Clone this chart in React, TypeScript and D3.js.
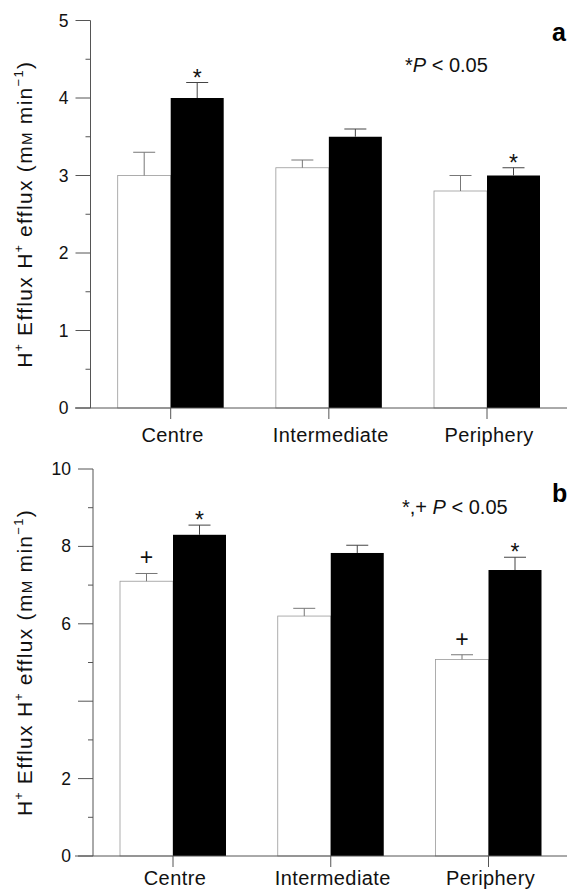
import React, { useEffect, useRef } from 'react';
import * as d3 from 'd3';

// categories and series
const categories = ['Centre', 'Intermediate', 'Periphery'];
const seriesKeys = ['open', 'filled'];

// panel a values (mM min-1)
const aOpen = [3.0, 3.1, 2.8];
const aOpenErr = [0.3, 0.1, 0.2];
const aFilled = [4.0, 3.5, 3.0];
const aFilledErr = [0.2, 0.1, 0.1];
const aMarks = [
  { cat: 'Centre', s: 'filled', sym: '*' },
  { cat: 'Periphery', s: 'filled', sym: '*' },
];
const aMajorTicks = [0, 1, 2, 3, 4, 5];
const aMinorTicks = [0.5, 1.5, 2.5, 3.5, 4.5];
const aTickLabels = ['0', '1', '2', '3', '4', '5'];

// panel b values
const bOpen = [7.1, 6.2, 5.08];
const bOpenErr = [0.2, 0.2, 0.12];
const bFilled = [8.3, 7.83, 7.39];
const bFilledErr = [0.25, 0.2, 0.33];
const bMarks = [
  { cat: 'Centre', s: 'open', sym: '+' },
  { cat: 'Centre', s: 'filled', sym: '*' },
  { cat: 'Periphery', s: 'open', sym: '+' },
  { cat: 'Periphery', s: 'filled', sym: '*' },
];
const bMajorTicks = [0, 2, 4, 6, 8, 10];
const bMinorTicks = [1, 3, 5, 7, 9];
const bTickLabels = ['0', '2', '', '6', '8', '10'];

const FONT = '"Liberation Sans", Arial, Helvetica, sans-serif';

const App = () => {
  const svgRef = useRef<SVGSVGElement>(null);

  useEffect(() => {
    const svg = d3.select(svgRef.current);
    svg.selectAll('*').remove();

    const drawPanel = (cfg: any) => {
      const g = svg.append('g');
      const y = d3.scaleLinear().domain(cfg.domain).range([cfg.yBottom, cfg.yTop]);
      const x = d3.scalePoint().domain(categories).range(cfg.xRange);
      const sub = d3.scaleBand().domain(seriesKeys).range([-53, 53]).padding(0);
      const rows = categories.map((c, i) => ({
        cat: c,
        open: cfg.open[i], openErr: cfg.openErr[i],
        filled: cfg.filled[i], filledErr: cfg.filledErr[i],
      }));

      // open bars
      g.selectAll('rect.open')
        .data(rows)
        .join('rect')
        .attr('class', 'open')
        .attr('x', d => x(d.cat)! + sub('open')!)
        .attr('y', d => y(d.open))
        .attr('width', sub.bandwidth())
        .attr('height', d => y(0) - y(d.open))
        .attr('fill', 'white')
        .attr('stroke', '#999')
        .attr('stroke-width', 0.8);

      // filled bars
      g.selectAll('rect.filled')
        .data(rows)
        .join('rect')
        .attr('class', 'filled')
        .attr('x', d => x(d.cat)! + sub('filled')!)
        .attr('y', d => y(d.filled))
        .attr('width', sub.bandwidth())
        .attr('height', d => y(0) - y(d.filled))
        .attr('fill', '#000');

      // error bars
      seriesKeys.forEach(s => {
        const cx = (d: any) => x(d.cat)! + sub(s)! + sub.bandwidth() / 2;
        const col = s === 'open' ? '#777' : '#444';
        g.selectAll(`line.ev-${s}`)
          .data(rows)
          .join('line')
          .attr('class', `ev-${s}`)
          .attr('x1', cx).attr('x2', cx)
          .attr('y1', (d: any) => y(d[s]))
          .attr('y2', (d: any) => y(d[s] + d[s + 'Err']))
          .attr('stroke', col)
          .attr('stroke-width', 1);
        g.selectAll(`line.ec-${s}`)
          .data(rows)
          .join('line')
          .attr('class', `ec-${s}`)
          .attr('x1', (d: any) => cx(d) - 11).attr('x2', (d: any) => cx(d) + 11)
          .attr('y1', (d: any) => y(d[s] + d[s + 'Err']))
          .attr('y2', (d: any) => y(d[s] + d[s + 'Err']))
          .attr('stroke', col)
          .attr('stroke-width', 1);
      });

      // significance marks
      g.selectAll('text.mark')
        .data(cfg.marks)
        .join('text')
        .attr('class', 'mark')
        .attr('x', (m: any) => x(m.cat)! + sub(m.s)! + sub.bandwidth() / 2)
        .attr('y', (m: any) => {
          const r: any = rows.find(rr => rr.cat === m.cat);
          const top = y(r[m.s] + r[m.s + 'Err']);
          return m.sym === '*' ? top + 3 : top - 8;
        })
        .attr('text-anchor', 'middle')
        .attr('font-family', FONT)
        .attr('font-size', (m: any) => (m.sym === '*' ? 23 : 23))
        .attr('fill', '#111')
        .text((m: any) => m.sym);

      // y axis
      g.append('line')
        .attr('x1', cfg.axisX).attr('x2', cfg.axisX)
        .attr('y1', y(cfg.domain[1])).attr('y2', y(0))
        .attr('stroke', '#555').attr('stroke-width', 1);
      g.selectAll('line.major')
        .data(cfg.majorTicks)
        .join('line')
        .attr('class', 'major')
        .attr('x1', cfg.axisX - 15).attr('x2', cfg.axisX)
        .attr('y1', (d: any) => y(d)).attr('y2', (d: any) => y(d))
        .attr('stroke', '#555').attr('stroke-width', 1);
      g.selectAll('line.minor')
        .data(cfg.minorTicks)
        .join('line')
        .attr('class', 'minor')
        .attr('x1', cfg.axisX - 5).attr('x2', cfg.axisX)
        .attr('y1', (d: any) => y(d)).attr('y2', (d: any) => y(d))
        .attr('stroke', '#555').attr('stroke-width', 1);
      g.selectAll('text.tick')
        .data(cfg.majorTicks)
        .join('text')
        .attr('class', 'tick')
        .attr('x', cfg.axisX - 22)
        .attr('y', (d: any) => y(d) + 6)
        .attr('text-anchor', 'end')
        .attr('font-family', FONT)
        .attr('font-size', 17.5)
        .attr('fill', '#111')
        .text((d: any, i: number) => cfg.tickLabels[i]);

      // x axis
      g.append('line')
        .attr('x1', 75).attr('x2', 567)
        .attr('y1', y(0)).attr('y2', y(0))
        .attr('stroke', '#555').attr('stroke-width', 1);
      g.selectAll('line.xt')
        .data(categories)
        .join('line')
        .attr('class', 'xt')
        .attr('x1', d => x(d)!).attr('x2', d => x(d)!)
        .attr('y1', y(0)).attr('y2', y(0) + 11)
        .attr('stroke', '#555').attr('stroke-width', 1);
      g.selectAll('text.xl')
        .data(categories)
        .join('text')
        .attr('class', 'xl')
        .attr('x', d => x(d)! + 2)
        .attr('y', y(0) + cfg.labelOffset)
        .attr('text-anchor', 'middle')
        .attr('font-family', FONT)
        .attr('font-size', 20)
        .attr('letter-spacing', 0.4)
        .attr('fill', '#111')
        .text(d => d);

      // y axis title
      const t = g.append('text')
        .attr('transform', `translate(32,${(y(0) + y(cfg.domain[1])) / 2}) rotate(-90)`)
        .attr('text-anchor', 'middle')
        .attr('font-family', FONT)
        .attr('font-size', 21)
        .attr('letter-spacing', 1.3)
        .attr('fill', '#111');
      t.append('tspan').text('H');
      t.append('tspan').attr('dy', -9).attr('font-size', 12).text('+');
      t.append('tspan').attr('dy', 9).text(' Efflux H');
      t.append('tspan').attr('dy', -9).attr('font-size', 12).text('+');
      t.append('tspan').attr('dy', 9).text(' efflux (m');
      t.append('tspan').attr('font-size', 15).text('M');
      t.append('tspan').text(' min');
      t.append('tspan').attr('dy', -9).attr('font-size', 13).text('\u22121');
      t.append('tspan').attr('dy', 9).text(')');

      // panel letter
      g.append('text')
        .attr('x', 552).attr('y', cfg.letterY)
        .attr('font-family', FONT)
        .attr('font-weight', 'bold')
        .attr('font-size', 25)
        .attr('fill', '#000')
        .text(cfg.letter);

      // p-value note
      const p = g.append('text')
        .attr('x', cfg.noteX).attr('y', cfg.noteY)
        .attr('font-family', FONT)
        .attr('font-size', 20)
        .attr('fill', '#111');
      p.append('tspan').text(cfg.notePrefix);
      p.append('tspan').attr('font-style', 'italic').text('P');
      p.append('tspan').text(' < 0.05');
    };

    drawPanel({
      domain: [0, 5], yTop: 20.5, yBottom: 408, xRange: [170.7, 487], axisX: 90.5,
      open: aOpen, openErr: aOpenErr, filled: aFilled, filledErr: aFilledErr,
      marks: aMarks, majorTicks: aMajorTicks, minorTicks: aMinorTicks, tickLabels: aTickLabels,
      letter: 'a', letterY: 41, noteX: 405, noteY: 72, notePrefix: '*', labelOffset: 34,
    });
    drawPanel({
      domain: [0, 10], yTop: 469, yBottom: 856, xRange: [173, 488.5], axisX: 93,
      open: bOpen, openErr: bOpenErr, filled: bFilled, filledErr: bFilledErr,
      marks: bMarks, majorTicks: bMajorTicks, minorTicks: bMinorTicks, tickLabels: bTickLabels,
      letter: 'b', letterY: 502, noteX: 402, noteY: 514, notePrefix: '*,+ ', labelOffset: 29,
    });
  }, []);

  return (
    <div style={{ position: 'absolute', left: 0, top: 0 }}>
      <svg ref={svgRef} width={572} height={891} style={{ display: 'block', background: 'white' }} />
    </div>
  );
};

export default App;
